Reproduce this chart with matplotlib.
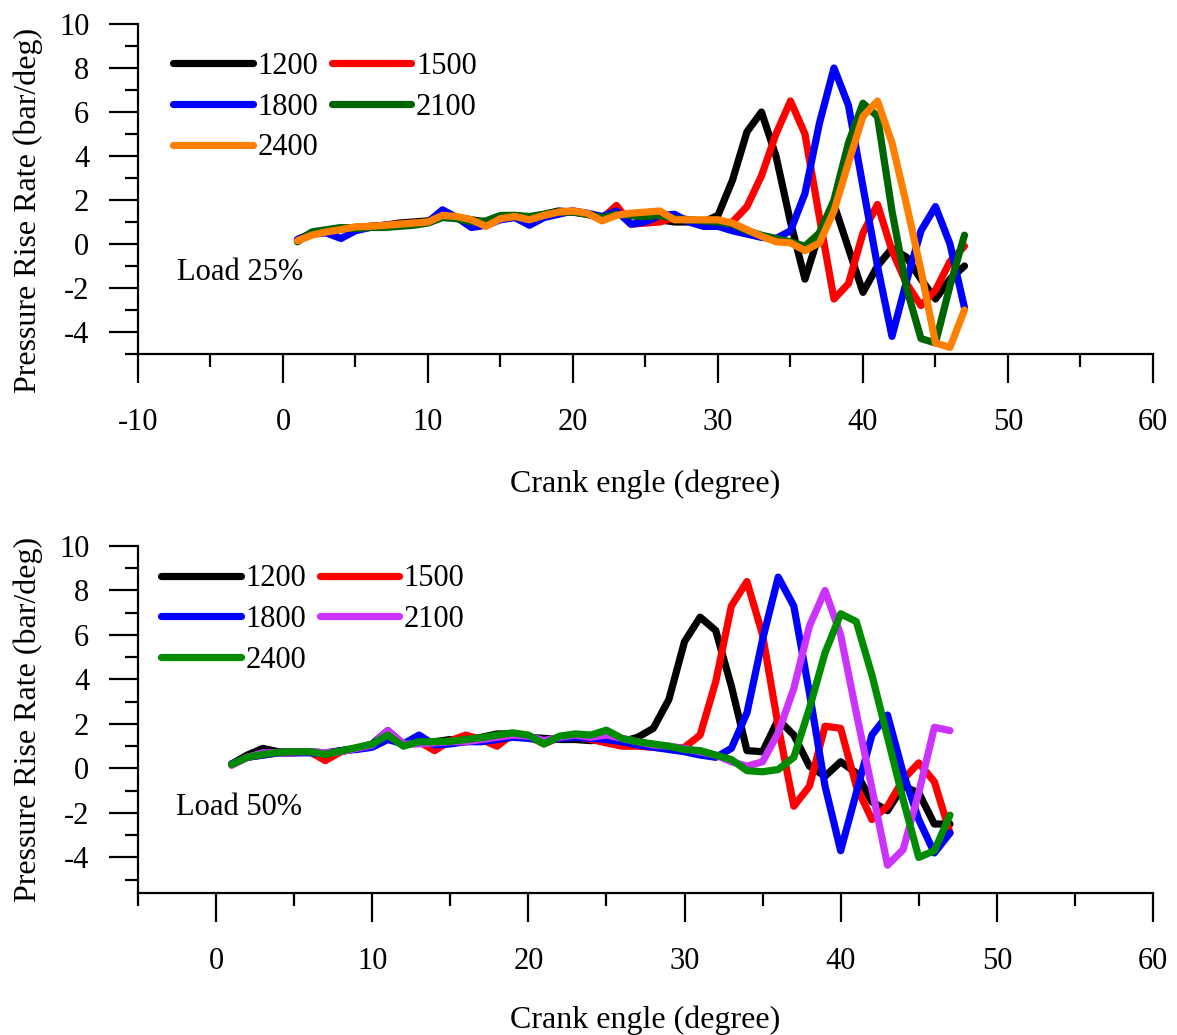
import numpy as np
import matplotlib
matplotlib.use("Agg")
from matplotlib import pyplot as plt
from matplotlib.ticker import MultipleLocator

plt.rcParams['font.family'] = ['Liberation Serif', 'DejaVu Serif']
plt.rcParams['axes.unicode_minus'] = False

# crank angle (degree), 1..47
crank = list(range(1, 48))

# ---- Load 25% ----
top_1200 = [0.2, 0.5, 0.6, 0.7, 0.75, 0.8, 0.85, 0.95, 1.0, 1.05, 1.3, 1.2, 1.1, 1.0, 1.2, 1.3, 1.2, 1.35, 1.5, 1.45,
            1.35, 1.2, 1.4, 1.3, 1.2, 1.1, 1.0, 1.0, 1.0, 1.3, 2.9, 5.1, 6.0, 4.0, 1.0, -1.6, 0.5, 1.8, -0.2, -2.2,
            -1.0, -0.2, -0.6, -1.6, -2.5, -1.6, -1.0]
top_1500 = [0.15, 0.45, 0.6, 0.7, 0.75, 0.8, 0.85, 0.9, 0.95, 1.0, 1.35, 1.2, 1.05, 0.9, 1.2, 1.25, 1.15, 1.3, 1.45, 1.5,
            1.35, 1.15, 1.75, 0.9, 0.95, 1.0, 1.2, 1.1, 1.0, 0.9, 1.0, 1.7, 3.1, 5.0, 6.5, 5.0, 1.2, -2.5, -1.8, 0.5,
            1.8, -0.3, -1.8, -2.8, -2.1, -0.8, -0.1]
top_1800 = [0.2, 0.45, 0.5, 0.25, 0.6, 0.75, 0.85, 0.85, 0.9, 1.0, 1.55, 1.2, 0.75, 0.85, 1.1, 1.2, 0.85, 1.2, 1.35, 1.5,
            1.4, 1.25, 1.5, 0.9, 1.0, 1.3, 1.35, 1.0, 0.8, 0.8, 0.6, 0.45, 0.3, 0.25, 0.6, 2.3, 5.5, 8.0, 6.3, 2.6,
            -1.0, -4.2, -1.7, 0.6, 1.7, 0.0, -2.9]
top_2100 = [0.1, 0.55, 0.65, 0.75, 0.7, 0.75, 0.75, 0.8, 0.85, 0.95, 1.2, 1.15, 1.0, 1.05, 1.3, 1.3, 1.25, 1.35, 1.45, 1.45,
            1.35, 1.2, 1.35, 1.3, 1.25, 1.3, 1.15, 1.1, 1.05, 1.0, 0.9, 0.6, 0.4, 0.25, 0.1, -0.1, 0.5, 2.0, 4.6, 6.4,
            5.8, 1.5, -2.0, -4.3, -4.5, -1.9, 0.4]
top_2400 = [0.15, 0.4, 0.55, 0.65, 0.78, 0.8, 0.85, 0.9, 0.95, 1.0, 1.3, 1.25, 1.1, 0.8, 1.15, 1.25, 1.1, 1.3, 1.45, 1.5,
            1.4, 1.05, 1.3, 1.4, 1.45, 1.5, 1.1, 1.1, 1.1, 1.1, 0.95, 0.65, 0.35, 0.1, 0.05, -0.3, 0.05, 1.5, 3.7, 5.8,
            6.5, 4.6, 1.8, -1.2, -4.5, -4.7, -3.0]

# ---- Load 50% ----
bot_1200 = [0.2, 0.6, 0.9, 0.75, 0.75, 0.75, 0.7, 0.8, 0.9, 1.1, 1.7, 1.1, 1.15, 1.2, 1.3, 1.2, 1.4, 1.55, 1.55, 1.4,
            1.35, 1.3, 1.3, 1.25, 1.3, 1.2, 1.4, 1.8, 3.1, 5.7, 6.8, 6.2, 3.7, 0.8, 0.75, 2.2, 1.5, 0.1, -0.35, 0.3,
            -0.2, -1.5, -1.9, -0.8, -1.1, -2.5, -2.5]
bot_1500 = [0.15, 0.5, 0.6, 0.7, 0.7, 0.75, 0.35, 0.75, 0.9, 1.0, 1.45, 1.05, 1.2, 0.8, 1.25, 1.5, 1.3, 1.0, 1.55, 1.45,
            1.1, 1.4, 1.45, 1.3, 1.15, 1.0, 1.0, 0.95, 0.9, 0.95, 1.5, 3.9, 7.3, 8.4, 6.0, 1.9, -1.7, -0.8, 1.9, 1.8,
            -0.8, -2.3, -1.7, -0.5, 0.25, -0.6, -2.9]
bot_1800 = [0.2, 0.5, 0.6, 0.7, 0.7, 0.7, 0.65, 0.8, 0.85, 0.95, 1.3, 1.1, 1.5, 1.05, 1.1, 1.2, 1.2, 1.3, 1.4, 1.35,
            1.25, 1.35, 1.4, 1.35, 1.3, 1.2, 1.05, 0.95, 0.85, 0.75, 0.6, 0.5, 0.9, 2.5, 5.8, 8.6, 7.3, 3.4, -0.8, -3.7,
            -1.1, 1.5, 2.4, -0.2, -2.3, -3.8, -2.9]
bot_2100 = [0.15, 0.5, 0.7, 0.72, 0.75, 0.75, 0.7, 0.75, 0.9, 1.05, 1.7, 1.1, 1.1, 1.15, 1.2, 1.2, 1.3, 1.4, 1.5, 1.45,
            1.25, 1.4, 1.5, 1.4, 1.5, 1.35, 1.2, 1.05, 1.0, 0.9, 0.75, 0.6, 0.3, 0.1, 0.3, 1.6, 3.6, 6.4, 8.0, 6.0,
            2.5, -0.9, -4.35, -3.65, -1.1, 1.85, 1.7]
bot_2400 = [0.18, 0.5, 0.63, 0.72, 0.75, 0.75, 0.63, 0.78, 0.94, 1.09, 1.5, 1.0, 1.2, 1.2, 1.22, 1.3, 1.38, 1.5, 1.6, 1.5,
            1.1, 1.45, 1.55, 1.5, 1.72, 1.35, 1.2, 1.1, 1.0, 0.85, 0.8, 0.6, 0.4, -0.1, -0.15, -0.05, 0.5, 2.7, 5.2, 6.95,
            6.6, 4.2, 1.4, -1.4, -4.0, -3.7, -2.1]

speeds = ["1200", "1500", "1800", "2100", "2400"]
top_series = [top_1200, top_1500, top_1800, top_2100, top_2400]
bot_series = [bot_1200, bot_1500, bot_1800, bot_2100, bot_2400]
top_colors = ["#000000", "#FF0000", "#0000FF", "#006400", "#FF8000"]
bot_colors = ["#000000", "#FF0000", "#0000FF", "#CC33FF", "#008C00"]


def style_axis(ax, xmin, ymin):
    ax.set_xlim(xmin, 60)
    ax.set_ylim(ymin, 10)
    ax.xaxis.set_major_locator(MultipleLocator(10))
    ax.xaxis.set_minor_locator(MultipleLocator(5))
    ax.yaxis.set_major_locator(MultipleLocator(2))
    ax.yaxis.set_minor_locator(MultipleLocator(1))
    for s in ["top", "right"]:
        ax.spines[s].set_visible(False)
    for s in ["left", "bottom"]:
        ax.spines[s].set_linewidth(1.6)
    ax.tick_params(which="major", direction="out", length=21, width=1.6, labelsize=22)
    ax.tick_params(which="minor", direction="out", length=9.5, width=1.6)
    ax.tick_params(axis="x", which="major", pad=18)
    ax.tick_params(axis="y", which="major", pad=14)
    ax.set_xlabel("Crank engle (degree)", fontsize=23, va="center")
    ax.set_ylabel("Pressure Rise Rate (bar/deg)", fontsize=23, va="center")


def draw_panel(ax, series, colors, load_text, text_xy, leg_anchor):
    lines = []
    for s, c, name in zip(series, colors, speeds):
        ln, = ax.plot(crank, s, color=c, lw=5.2, label=name,
                      solid_joinstyle="round", solid_capstyle="round")
        lines.append(ln)
    # row-major legend: 1200 1500 / 1800 2100 / 2400
    order = [0, 2, 4, 1, 3]
    ax.legend([lines[i] for i in order], [speeds[i] for i in order], ncol=2, loc="upper left",
              bbox_to_anchor=leg_anchor, frameon=False, fontsize=22, handlelength=2.6,
              handletextpad=0.15, columnspacing=0.45, labelspacing=0.38, borderpad=0, borderaxespad=0)
    ax.text(text_xy[0], text_xy[1], load_text, fontsize=22, ha="left", va="center")


fig = plt.figure(figsize=(11.77, 10.35), dpi=100)
ax1 = fig.add_axes([0.1172, 0.658, 0.8624, 0.3188])
ax2 = fig.add_axes([0.1172, 0.1372, 0.8624, 0.3353])

draw_panel(ax1, top_series, top_colors, "Load 25%", (-7.3, -1.3), (0.035, 0.915))
style_axis(ax1, -10, -5)
ax1.xaxis.set_label_coords(0.5, -0.394)
ax1.yaxis.set_label_coords(-0.108, 0.436)

draw_panel(ax2, bot_series, bot_colors, "Load 50%", (-2.55, -1.76), (0.023, 0.947))
style_axis(ax2, -5, -5.6)
ax2.xaxis.set_label_coords(0.5, -0.366)
ax2.yaxis.set_label_coords(-0.108, 0.5)

plt.savefig("out.png", dpi=100)
